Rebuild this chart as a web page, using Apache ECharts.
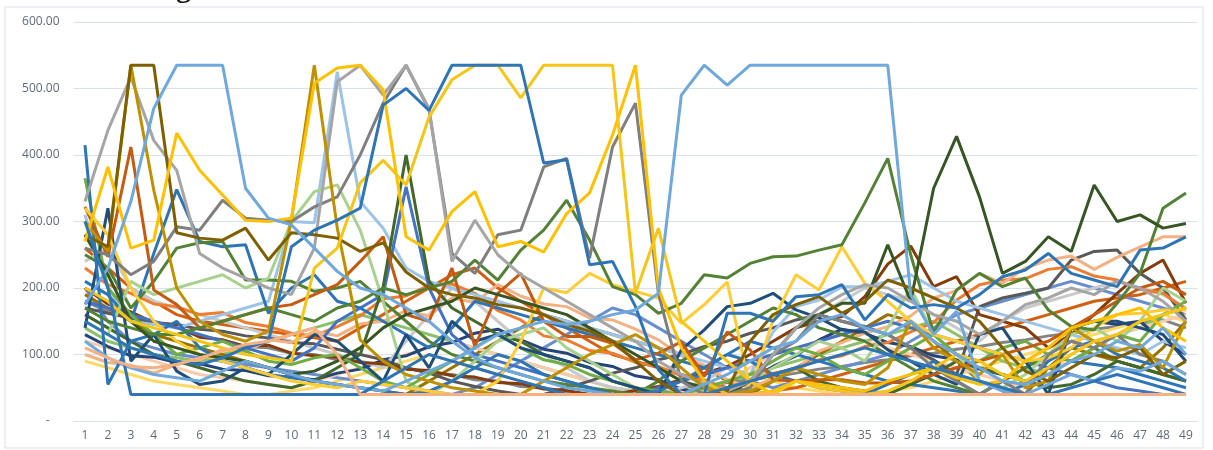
<!DOCTYPE html>
<html><head><meta charset="utf-8">
<script src="https://cdn.jsdelivr.net/npm/echarts/dist/echarts.min.js"></script>
<style>html,body{margin:0;padding:0;background:#fff}#c{width:1213px;height:450px}</style>
</head><body><div id="c"></div><script>
const categories = ['1','2','3','4','5','6','7','8','9','10','11','12','13','14','15','16','17','18','19','20','21','22','23','24','25','26','27','28','29','30','31','32','33','34','35','36','37','38','39','40','41','42','43','44','45','46','47','48','49'];
const yTicks = [0,100,200,300,400,500,600];

// background series
const grayMid = [180,165,162,148,142,128,122,112,110,102, 100,92,90,82,80,72,70,62,60,52, 50,44,40,40,40,42,48,52,58,62, 66,72,78,82,88,92,98,102,108,112, 118,122,128,132,138,142,148,152,140];
const yellowLight = [90,80,70,60,55,50,45,40,40,45, 50,60,70,80,90,100,90,80,70,60, 50,40,40,40,45,50,60,70,80,70, 60,50,45,40,40,45,50,60,70,80, 90,100,110,120,130,140,150,160,150];
const brownOrange2 = [260,230,200,180,160,150,145,140,135,130, 125,120,140,160,180,200,220,230,200,180, 160,140,120,100,90,80,70,60,50,40, 45,50,60,70,80,90,100,110,120,130, 140,150,160,170,180,185,190,200,210];
const blue5 = [200,150,120,110,100,95,90,85,80,75, 70,65,60,55,50,45,40,50,70,90, 110,130,150,170,160,140,120,100,80,60, 50,60,70,80,90,100,120,140,160,170, 180,190,200,210,200,190,180,170,160];
const green4 = [140,120,110,100,95,90,100,110,120,130, 140,150,160,150,140,130,120,110,100,90, 80,70,60,50,45,40,45,50,60,70, 80,90,100,110,120,130,140,150,130,110, 90,80,70,90,110,130,140,160,170];
const olive2 = [190,170,150,130,120,110,100,90,80,70, 60,55,50,45,40,60,80,100,120,140, 160,150,140,130,120,110,100,80,60,40, 60,80,100,120,140,160,150,120,90,60, 50,40,80,110,100,90,80,110,150];
const orangeLight2 = [120,110,100,90,80,70,65,60,55,50, 60,70,80,90,100,110,120,110,100,90, 80,70,60,50,45,40,45,50,60,80, 100,110,120,130,120,110,100,90,80,70, 60,50,70,100,120,130,140,150,160];
const navy2 = [130,112,98,96,88,86,78,76,68,66, 62,72,78,92,98,112,118,132,138,122, 108,102,88,82,68,62,48,40,40,62, 82,98,122,138,132,118,112,98,92,78, 70,60,50,140,150,145,150,120,100];
const lightGray = [240,260,200,180,170,160,150,140,130,120, 110,100,90,80,120,160,200,180,150,120, 100,80,60,50,45,40,50,60,80,100, 120,140,160,180,200,190,180,160,140,120, 150,170,180,190,200,210,200,190,170];
const darkGray2 = [170,162,155,148,145,138,135,128,125,118, 116,108,100,92,80,72,60,52,45,40, 40,50,60,72,80,92,100,112,120,132, 140,152,160,150,142,130,110,92,70,172, 185,192,200,242,255,257,222,200,152];
const orange = [230,205,192,176,172,160,163,148,142,132, 128,142,158,184,188,204,206,192,166,152, 128,122,106,102,88,82,68,62,48,62, 72,78,92,98,112,118,134,148,182,205, 212,214,228,232,218,212,198,192,168];
const brown = [200,176,164,148,142,126,122,112,114,102, 98,96,88,86,78,76,68,66,58,56, 48,46,40,40,46,52,62,72,82,100, 120,140,150,157,187,236,263,202,217,160, 150,140,110,130,160,192,222,242,177];
const peachHigh = [100,88,84,72,85,92,108,104,122,118, 135,128,146,150,166,158,185,178,205,188, 176,172,155,152,138,122,98,84,62,50, 64,78,105,118,132,142,158,185,196,222, 207,230,242,248,228,246,262,277,277];
// prominent series
const lightBlue3 = [310,200,150,145,140,150,160,170,180,300, 298,525,330,290,230,210,200,190,180,170, 160,150,140,130,120,110,100,90,80,70, 134,172,182,202,202,210,220,200,180,170, 160,150,140,130,120,110,100,120,110];
const blue352 = [180,170,160,150,140,130,120,110,100,90, 110,150,170,190,352,200,130,100,90,80, 70,60,50,40,40,50,60,70,80,90, 100,110,120,130,140,150,140,130,120,110, 100,90,80,70,60,50,45,40,40];
const blue348 = [210,190,150,252,348,270,262,265,162,200, 220,180,170,150,130,110,140,180,170,160, 150,140,130,120,110,100,90,80,100,120, 110,100,90,80,70,60,55,50,45,40, 60,80,100,90,85,80,70,60,50];
const green3 = [250,230,170,210,260,268,270,212,212,210, 195,200,210,180,150,120,100,90,80,70, 60,55,50,45,40,60,90,110,130,150, 170,160,140,130,120,100,80,60,50,40, 60,80,100,120,110,90,80,70,60];
const green5 = [160,140,120,100,90,80,70,60,55,50, 60,80,100,202,400,210,170,150,130,120, 100,90,80,60,50,40,40,45,50,60, 70,80,60,50,45,40,55,70,90,80, 70,60,50,55,70,90,80,70,60];
const lightGreen = [150,130,210,190,200,210,220,200,215,300, 345,355,287,180,60,40,60,90,120,130, 140,110,90,70,50,40,40,45,50,60, 80,100,120,110,90,140,200,130,100,60, 50,70,100,130,140,120,150,200,180];
const green1 = [365,200,160,130,100,110,120,105,90,85, 95,100,80,60,50,70,90,110,132,110, 92,85,70,60,50,45,40,50,60,70, 90,110,100,80,70,90,110,130,100,90, 110,120,100,90,110,130,120,160,180];
const navy = [140,320,90,130,75,55,60,80,70,100, 130,120,90,60,130,80,150,120,130,110, 100,90,80,60,50,40,107,137,172,177, 192,167,155,137,134,107,90,70,55,130, 140,90,40,140,150,150,140,130,90];
const blue415 = [415,55,120,130,150,110,90,80,70,65, 60,55,50,45,40,45,60,80,100,90, 70,60,50,40,40,45,60,80,100,90, 70,60,50,45,40,55,70,90,60,40, 40,55,90,110,120,100,90,80,60];
const orangeBrown = [322,247,412,197,175,140,150,160,170,175, 190,205,240,277,160,150,230,112,192,222, 150,127,127,117,92,102,119,67,134,107, 62,60,62,62,57,57,60,70,80,90, 100,110,120,140,160,180,200,210,190];
const yellow3 = [320,280,200,150,120,100,90,80,70,60, 55,50,60,55,50,45,40,40,60,120, 200,193,222,205,195,185,147,175,209,47, 152,220,197,262,207,180,150,130,120,110, 100,90,95,110,140,160,162,167,167];
const green2 = [170,150,140,130,130,140,150,160,170,160, 150,170,180,200,190,200,210,242,212,257, 287,332,272,202,190,162,177,220,215,237, 247,248,257,265,328,395,250,132,197,222, 202,215,167,142,137,177,222,320,343];
const darkGreen = [280,220,150,120,110,100,95,90,80,70, 75,90,110,140,160,170,180,200,190,180, 170,160,140,120,100,80,60,50,40,60, 100,140,160,177,177,265,180,350,428,337, 222,240,277,255,355,300,310,290,297];
const darkGray = [260,250,220,240,292,287,332,305,302,300, 322,337,400,478,535,468,252,222,280,287, 382,395,245,412,478,192,60,40,40,50, 100,120,160,150,140,130,110,80,60,40, 60,40,100,120,110,130,100,90,70];
const gray = [330,437,517,422,377,252,230,215,200,190, 260,510,535,490,535,470,240,302,250,220, 200,180,160,140,120,90,70,55,45,60, 100,140,170,190,205,200,180,160,150,130, 150,175,185,200,190,210,200,180,150];
const mustard = [300,255,535,347,200,150,130,120,135,302, 535,290,122,90,70,60,50,45,40,40, 60,80,100,115,130,110,80,50,40,45, 60,80,70,60,55,80,150,110,90,70, 100,50,60,140,120,105,115,80,150];
const darkOlive = [280,262,535,535,283,275,272,290,242,283, 280,275,255,268,224,200,190,185,175,170, 160,145,135,120,90,60,40,40,45,120, 160,175,187,162,180,212,200,185,170,150, 110,75,60,80,100,95,110,70,90];
const yellow2 = [270,382,260,272,433,377,340,302,300,305, 508,531,535,498,277,257,315,345,262,270, 254,312,343,430,535,200,110,60,40,40, 45,60,55,50,45,60,70,80,65,55, 60,90,110,140,150,160,170,140,120];
const yellowPlateau = [200,180,150,140,130,120,110,100,95,90, 230,260,358,392,355,457,513,535,535,486, 535,535,535,535,192,290,150,120,90,60, 40,60,50,45,40,45,60,80,100,90, 70,60,80,100,120,130,150,160,170];
const blueDark = [150,130,110,100,90,85,95,110,120,262, 287,302,320,475,500,467,535,535,535,535, 388,393,235,240,172,77,40,40,162,162, 150,187,190,205,152,190,170,175,170,190, 217,227,252,222,212,202,257,260,277];
const lightBlueA = [175,230,330,470,535,535,535,350,305,295, 260,225,200,190,170,150,120,95,80,70, 60,50,45,40,40,40,40,55,70,90, 110,120,150,160,140,130,150,120,100,80, 60,55,70,90,100,120,110,140,100];
const lightBlueB = [120,95,80,70,65,60,75,90,80,70, 60,55,50,45,60,75,90,110,130,140, 150,145,150,160,167,192,490,535,505,535, 535,535,535,535,535,535,190,130,165,60, 45,40,55,70,60,80,75,90,70];
const blueFloor = [300,200,40,40,40,40,40,40,40,40, 40,40,40,60,80,100,90,80,70,60, 50,40,40,40,40,40,40,40,50,60, 70,80,90,100,110,100,90,80,70,60, 50,40,40,50,60,70,60,50,40];
const peachFloor = [110,95,82,80,85,95,105,115,120,130, 140,100,40,40,40,40,40,40,40,40, 40,40,40,40,40,40,40,40,40,40, 40,40,40,40,40,40,40,40,40,40, 40,40,40,40,40,40,40,40,40];

const seriesList = [
  ['grayMid', grayMid, '#848484'],
  ['yellowLight', yellowLight, '#ffd966'],
  ['brownOrange2', brownOrange2, '#d26012'],
  ['blue5', blue5, '#698ed0'],
  ['green4', green4, '#8cc168'],
  ['olive2', olive2, '#997300'],
  ['orangeLight2', orangeLight2, '#f8cbad'],
  ['navy2', navy2, '#264478'],
  ['lightGray', lightGray, '#c9c9c9'],
  ['darkGray2', darkGray2, '#595959'],
  ['orange', orange, '#ed7d31'],
  ['brown', brown, '#843c0c'],
  ['peachHigh', peachHigh, '#f4b183'],
  ['lightBlue3', lightBlue3, '#9dc3e6'],
  ['blue352', blue352, '#4472c4'],
  ['blue348', blue348, '#2e75b6'],
  ['green3', green3, '#548235'],
  ['green5', green5, '#43682b'],
  ['lightGreen', lightGreen, '#a9d18e'],
  ['green1', green1, '#70ad47'],
  ['navy', navy, '#1f4e79'],
  ['blue415', blue415, '#2e75b6'],
  ['orangeBrown', orangeBrown, '#c55a11'],
  ['yellow3', yellow3, '#ffcd33'],
  ['green2', green2, '#548235'],
  ['darkGreen', darkGreen, '#375623'],
  ['darkGray', darkGray, '#7f7f7f'],
  ['gray', gray, '#a5a5a5'],
  ['mustard', mustard, '#bf9000'],
  ['darkOlive', darkOlive, '#7f6000'],
  ['yellow2', yellow2, '#ffc000'],
  ['yellowPlateau', yellowPlateau, '#f5c518'],
  ['blueDark', blueDark, '#2e75b6'],
  ['lightBlueA', lightBlueA, '#6fa8dc'],
  ['lightBlueB', lightBlueB, '#6fa8dc'],
  ['blueFloor', blueFloor, '#2e75b6'],
  ['peachFloor', peachFloor, '#f4b183']
];

const chart = echarts.init(document.getElementById('c'), null, {renderer: 'canvas'});
chart.setOption({
  animation: false,
  backgroundColor: '#ffffff',
  grid: {left: 73.5, right: 15.6, top: 22, bottom: 29, containLabel: false},
  graphic: [
    {type: 'rect', shape: {x: 5, y: 7, width: 1198, height: 441}, style: {fill: 'none', stroke: '#d9dee6', lineWidth: 1}, z: -1},
    {type: 'text', x: 176, y: -26, style: {text: 'g', font: 'bold 30px "Liberation Serif"', fill: '#222', verticalAlign: 'top'}}
  ],
  xAxis: {
    type: 'category', data: categories, boundaryGap: true,
    axisLine: {show: true, lineStyle: {color: '#d9e1ea', width: 1}},
    axisTick: {show: false},
    axisLabel: {color: '#5f6b78', fontSize: 12, fontFamily: 'Open Sans, sans-serif', margin: 9, interval: 0},
    splitLine: {show: false}
  },
  yAxis: {
    type: 'value', min: yTicks[0], max: yTicks[yTicks.length - 1], interval: 100,
    axisLine: {show: false}, axisTick: {show: false},
    axisLabel: {color: '#5f6b78', fontSize: 12, fontFamily: 'Open Sans, sans-serif', margin: 14,
      formatter: v => v === 0 ? '{d|-}' : v.toFixed(2),
      rich: {d: {color: '#5f6b78', fontSize: 12, fontFamily: 'Open Sans, sans-serif', padding: [0, 10, 0, 0]}}},
    splitLine: {show: true, lineStyle: {color: '#d9e1ea', width: 1}}
  },
  series: seriesList.map(([name, data, color]) => ({
    name, type: 'line', data, symbol: 'none', smooth: false, silent: true,
    lineStyle: {color, width: 3}, itemStyle: {color}
  }))
});
</script></body></html>
